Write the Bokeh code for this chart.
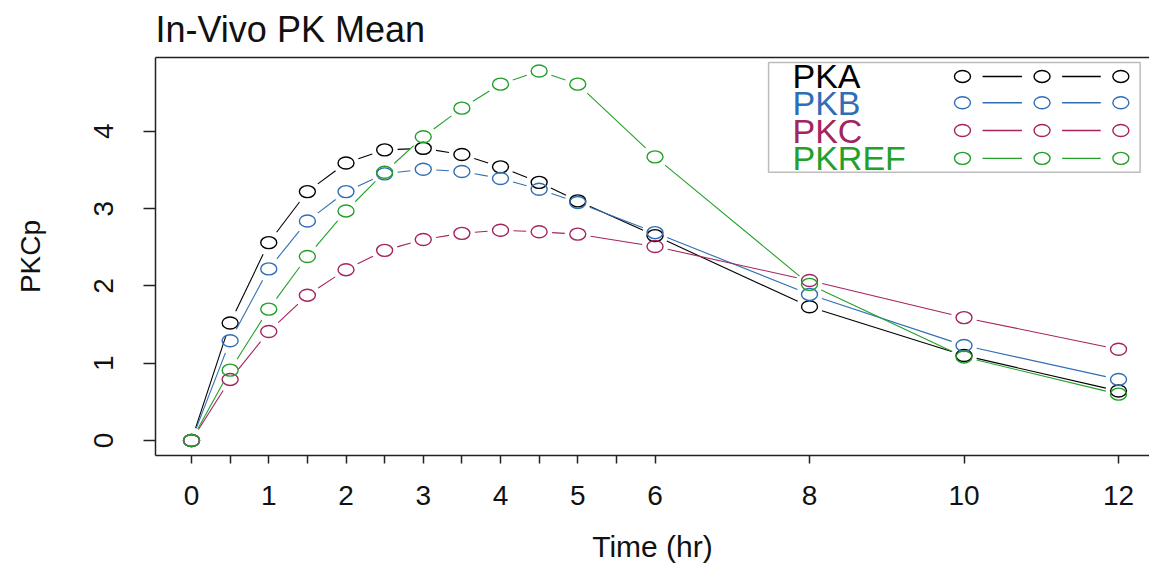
import math
from bokeh.plotting import figure
from bokeh.models import Range1d, LinearAxis, FixedTicker, Label, BoxAnnotation, ColumnDataSource, Title
from bokeh.embed import file_html
from bokeh.resources import INLINE

# ---------------- data ----------------
time_hr = [0, 0.5, 1, 1.5, 2, 2.5, 3, 3.5, 4, 4.5, 5, 6, 8, 10, 12]
pka = [0, 1.52, 2.56, 3.22, 3.59, 3.76, 3.78, 3.70, 3.54, 3.34, 3.10, 2.65, 1.73, 1.10, 0.64]
pkb = [0, 1.29, 2.22, 2.84, 3.22, 3.45, 3.51, 3.48, 3.39, 3.25, 3.08, 2.69, 1.89, 1.23, 0.79]
pkc = [0, 0.79, 1.41, 1.88, 2.21, 2.46, 2.60, 2.68, 2.72, 2.70, 2.67, 2.51, 2.07, 1.59, 1.18]
pkref = [0, 0.91, 1.70, 2.38, 2.97, 3.47, 3.93, 4.30, 4.61, 4.78, 4.61, 3.67, 2.02, 1.08, 0.60]

series_names = ["PKA", "PKB", "PKC", "PKREF"]
series_values = [pka, pkb, pkc, pkref]
series_colors = ["#000000", "#2F6EB5", "#A3245F", "#22A02A"]

x_major_ticks = [0, 1, 2, 3, 4, 5, 6, 8, 10, 12]
x_minor_ticks = [0.5, 1.5, 2.5, 3.5, 4.5, 5.5]
y_ticks = [0, 1, 2, 3, 4]

title_text = "In-Vivo PK Mean"
x_label = "Time (hr)"
y_label = "PKCp"

# ---------------- layout / style ----------------
FONT = "Liberation Sans"
FW, FH = 994, 398
X0, X1 = -0.466, 12.401
Y0, Y1 = -0.194, 4.955
AXIS_COLOR = "#222222"
TEXT_COLOR = "#111111"
GAP_PX = 13.0
MK_W, MK_H = 16, 12

p = figure(frame_width=FW, frame_height=FH,
           x_range=Range1d(X0, X1), y_range=Range1d(Y0, Y1),
           output_backend="svg", toolbar_location=None,
           x_axis_location=None, y_axis_location=None,
           min_border_left=155, min_border_top=57,
           min_border_right=0, min_border_bottom=0)
p.title = Title(text=title_text, align="left", vertical_align="top",
                text_font=FONT, text_font_size="36px", text_font_style="normal",
                text_color=TEXT_COLOR, standoff=12, offset=0)
p.outline_line_color = None
p.background_fill_color = "white"
p.border_fill_color = "white"
p.grid.visible = False

# bottom axis
xaxis = LinearAxis(ticker=FixedTicker(ticks=x_major_ticks, minor_ticks=x_minor_ticks),
                   axis_label=x_label)
xaxis.axis_line_color = AXIS_COLOR
xaxis.axis_line_width = 1.5
xaxis.major_tick_line_color = AXIS_COLOR
xaxis.major_tick_line_width = 1.5
xaxis.major_tick_out = 8
xaxis.major_tick_in = 0
xaxis.minor_tick_line_color = AXIS_COLOR
xaxis.minor_tick_line_width = 1.5
xaxis.minor_tick_out = 8
xaxis.minor_tick_in = 0
xaxis.major_label_text_font = FONT
xaxis.major_label_text_font_size = "28px"
xaxis.major_label_text_color = TEXT_COLOR
xaxis.major_label_standoff = 22
xaxis.axis_label_text_font = FONT
xaxis.axis_label_text_font_size = "30px"
xaxis.axis_label_text_font_style = "normal"
xaxis.axis_label_text_color = TEXT_COLOR
xaxis.axis_label_standoff = 22
p.add_layout(xaxis, "below")

# left axis
yaxis = LinearAxis(ticker=FixedTicker(ticks=y_ticks), axis_label=y_label)
yaxis.axis_line_color = AXIS_COLOR
yaxis.axis_line_width = 1.5
yaxis.major_tick_line_color = AXIS_COLOR
yaxis.major_tick_line_width = 1.5
yaxis.major_tick_out = 12
yaxis.major_tick_in = 0
yaxis.minor_tick_line_color = None
yaxis.major_label_orientation = "vertical"
yaxis.major_label_text_font = FONT
yaxis.major_label_text_font_size = "28px"
yaxis.major_label_text_color = TEXT_COLOR
yaxis.major_label_standoff = 30
yaxis.axis_label_text_font = FONT
yaxis.axis_label_text_font_size = "28px"
yaxis.axis_label_text_font_style = "normal"
yaxis.axis_label_text_color = TEXT_COLOR
yaxis.axis_label_standoff = 46
p.add_layout(yaxis, "left")

# top border line
top = LinearAxis(ticker=FixedTicker(ticks=[]))
top.axis_line_color = AXIS_COLOR
top.axis_line_width = 1.5
top.major_tick_line_color = None
top.minor_tick_line_color = None
top.major_label_text_font_size = "0px"
top.major_label_standoff = 0
p.add_layout(top, "above")

sx = FW / (X1 - X0)
sy = FH / (Y1 - Y0)


def gapped_segments(xs, ys, gap):
    x0s, y0s, x1s, y1s = [], [], [], []
    for i in range(len(xs) - 1):
        dx = xs[i + 1] - xs[i]
        dy = ys[i + 1] - ys[i]
        L = math.hypot(dx * sx, dy * sy)
        if L <= 2 * gap:
            continue
        f = gap / L
        x0s.append(xs[i] + dx * f)
        y0s.append(ys[i] + dy * f)
        x1s.append(xs[i + 1] - dx * f)
        y1s.append(ys[i + 1] - dy * f)
    return dict(x0=x0s, y0=y0s, x1=x1s, y1=y1s)


for name, vals, col in zip(series_names, series_values, series_colors):
    seg = ColumnDataSource(gapped_segments(time_hr, vals, GAP_PX))
    p.segment(x0="x0", y0="y0", x1="x1", y1="y1", source=seg,
              line_color=col, line_width=1.1)
    pts = ColumnDataSource(dict(t=time_hr, v=vals))
    p.ellipse(x="t", y="v", width=MK_W, height=MK_H, width_units="screen",
              height_units="screen", source=pts, fill_color=None,
              line_color=col, line_width=1.4)

# legend (drawn manually: label on the left, "o — o — o" symbol on the right)
LEG_L, LEG_R, LEG_T, LEG_B = 7.47, 12.28, 4.89, 3.47
p.add_layout(BoxAnnotation(left=LEG_L, right=LEG_R, top=LEG_T, bottom=LEG_B,
                           fill_color="white", fill_alpha=1.0,
                           line_color="#222222", line_width=1.5, level="underlay"))
leg_rows_y = [4.71, 4.37, 4.01, 3.65]
leg_text_x = 7.78
leg_sym_x = [9.98, 11.01, 12.03]
leg_line_x0 = [10.24, 11.27]
leg_line_x1 = [10.75, 11.77]
for name, col, ly in zip(series_names, series_colors, leg_rows_y):
    p.add_layout(Label(x=leg_text_x, y=ly, text=name, text_color=col,
                       text_font=FONT, text_font_size="34px",
                       text_baseline="middle", text_align="left"))
    p.ellipse(x=leg_sym_x, y=[ly] * 3, width=MK_W, height=MK_H,
              width_units="screen", height_units="screen",
              fill_color=None, line_color=col, line_width=1.4)
    p.segment(x0=leg_line_x0, y0=[ly] * 2, x1=leg_line_x1, y1=[ly] * 2,
              line_color=col, line_width=1.4)

open("out.html", "w").write(file_html(p, INLINE))
